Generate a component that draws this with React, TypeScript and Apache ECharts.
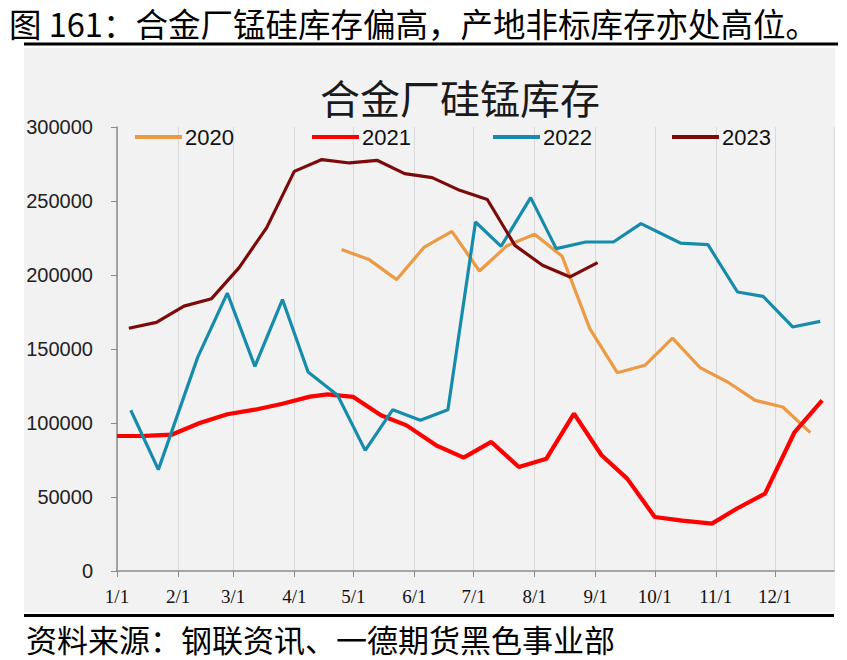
import React, { useEffect, useRef } from "react";
import * as echarts from "echarts";

const HEADING = "图 161：合金厂锰硅库存偏高，产地非标库存亦处高位。";
const CHART_TITLE = "合金厂硅锰库存";
const SOURCE = "资料来源：钢联资讯、一德期货黑色事业部";

const SERIES_NAMES = ["2020", "2021", "2022", "2023"];
const SERIES_COLORS = ["#EC9A43", "#FF0000", "#168BAB", "#7D0A0A"];
const SERIES_WIDTHS = [3.2, 4.2, 3.2, 3.2];

// month-day of each observation (plotted on a common Jan–Dec axis)
const dates2020 = ["04-25", "05-09", "05-23", "06-06", "06-20", "07-04", "07-18", "08-01", "08-15", "08-29", "09-12", "09-26", "10-10", "10-24", "11-07", "11-21", "12-05", "12-19"];
const values2020 = [217200, 210400, 196900, 218900, 229500, 202700, 219800, 227500, 212600, 163800, 134000, 139000, 157400, 137400, 127700, 115300, 110800, 93500];

const dates2021 = ["01-01", "01-15", "01-29", "02-12", "02-26", "03-12", "03-26", "04-09", "04-18", "05-01", "05-15", "05-28", "06-12", "06-26", "07-10", "07-24", "08-07", "08-21", "09-04", "09-17", "10-01", "10-15", "10-30", "11-12", "11-26", "12-11", "12-25"];
const values2021 = [91200, 91300, 92200, 100000, 105900, 109000, 113000, 117800, 119300, 117600, 105200, 98400, 84900, 76600, 87200, 70300, 75900, 106300, 78200, 62400, 36500, 34000, 32000, 42400, 52300, 93900, 115300];

const dates2022 = ["01-08", "01-22", "02-11", "02-26", "03-12", "03-26", "04-08", "04-23", "05-07", "05-21", "06-04", "06-18", "07-02", "07-15", "07-30", "08-12", "08-27", "09-10", "09-24", "10-14", "10-28", "11-12", "11-25", "12-10", "12-24"];
const values2022 = [108600, 68500, 144500, 187800, 138300, 183400, 134500, 118700, 81500, 109000, 101800, 109000, 235800, 219400, 252300, 217800, 222300, 222300, 234700, 221600, 220500, 188500, 185600, 164900, 168700];

const dates2023 = ["01-07", "01-21", "02-04", "02-18", "03-04", "03-18", "04-01", "04-15", "04-29", "05-13", "05-27", "06-10", "06-24", "07-08", "07-22", "08-05", "08-19", "09-02"];
const values2023 = [164000, 168000, 179000, 184000, 205000, 232000, 270000, 278000, 275700, 277500, 268500, 265800, 257200, 251000, 220000, 206600, 198700, 208400];

const Y_MIN = 0;
const Y_MAX = 300000;
const Y_STEP = 50000;

const BASE_YEAR = 2001;

const SANS = "'Liberation Sans', Arial, sans-serif";
const SERIF = "'Liberation Serif', 'Times New Roman', serif";
const CJK = "'Noto Sans CJK SC', sans-serif";

function toTime(md: string): number {
  const [m, d] = md.split("-").map(Number);
  return new Date(BASE_YEAR, m - 1, d).getTime();
}

function pairs(dates: string[], values: number[]) {
  return dates.map((d, i) => [toTime(d), values[i]]);
}

const ALL_DATES = [dates2020, dates2021, dates2022, dates2023];
const ALL_VALUES = [values2020, values2021, values2022, values2023];

const LEGEND_LEFTS = [130, 307, 488, 667];

export default function App() {
  const ref = useRef<HTMLDivElement>(null);

  useEffect(() => {
    if (!ref.current) return;
    const chart = echarts.init(ref.current, undefined, { renderer: "svg" });

    const series = SERIES_NAMES.map((name, i) => ({
      name,
      type: "line",
      data: pairs(ALL_DATES[i], ALL_VALUES[i]),
      showSymbol: false,
      symbol: "none",
      lineStyle: { color: SERIES_COLORS[i], width: SERIES_WIDTHS[i] },
      itemStyle: { color: SERIES_COLORS[i] },
      z: 3,
    }));

    const legends = SERIES_NAMES.map((name, i) => ({
      data: [name],
      left: LEGEND_LEFTS[i],
      top: 121,
      icon: "rect",
      itemWidth: 47,
      itemHeight: 4,
      itemGap: 0,
      textStyle: { fontFamily: SANS, fontSize: 22, lineHeight: 22, color: "#111", padding: [0, 0, 0, -2] },
      selectedMode: false,
    }));

    chart.setOption({
      animation: false,
      grid: { left: 117, right: 13, top: 127, bottom: 89, containLabel: false },
      legend: legends,
      xAxis: {
        type: "time",
        min: new Date(BASE_YEAR, 0, 1).getTime(),
        max: new Date(BASE_YEAR, 11, 31).getTime(),
        splitNumber: 12,
        axisLine: { show: true, lineStyle: { color: "#8c8c8c", width: 1.5 } },
        axisTick: { show: true, length: 6, lineStyle: { color: "#8c8c8c" } },
        splitLine: { show: true, lineStyle: { color: "#d9d9d9", width: 1 } },
        axisLabel: {
          fontFamily: SERIF,
          fontSize: 19,
          color: "#111",
          margin: 16,
          hideOverlap: false,
          formatter: (v: number) => {
            const dt = new Date(v);
            return dt.getDate() === 1 ? `${dt.getMonth() + 1}/1` : "";
          },
        },
      },
      yAxis: {
        type: "value",
        min: Y_MIN,
        max: Y_MAX,
        interval: Y_STEP,
        axisLine: { show: true, lineStyle: { color: "#8c8c8c", width: 1.5 } },
        axisTick: { show: true, length: 6, lineStyle: { color: "#8c8c8c" } },
        splitLine: { show: false },
        axisLabel: {
          fontFamily: SANS,
          fontSize: 20,
          color: "#222",
          margin: 24,
          formatter: (v: number) => String(v),
        },
      },
      graphic: [
        {
          type: "rect",
          z: -100,
          shape: { x: 24, y: 48, width: 811, height: 564 },
          style: { fill: "#f2f2f2" },
          silent: true,
        },
        {
          type: "rect",
          shape: { x: 24, y: 42.5, width: 814, height: 3 },
          style: { fill: "#000" },
          silent: true,
        },
        {
          type: "rect",
          shape: { x: 24, y: 614, width: 810, height: 3 },
          style: { fill: "#000" },
          silent: true,
        },
        {
          type: "text",
          x: 9,
          y: 22,
          style: { text: HEADING, fontFamily: CJK, fontSize: 32.5, lineHeight: 34, fill: "#000", textVerticalAlign: "middle" },
          silent: true,
        },
        {
          type: "text",
          x: 460,
          y: 97,
          style: { text: CHART_TITLE, fontFamily: CJK, fontSize: 40, lineHeight: 40, fill: "#1a1a1a", textAlign: "center", textVerticalAlign: "middle" },
          silent: true,
        },
        {
          type: "text",
          x: 26,
          y: 638,
          style: { text: SOURCE, fontFamily: CJK, fontSize: 31, lineHeight: 32, fill: "#000", textVerticalAlign: "middle" },
          silent: true,
        },
      ],
      series,
    });

    return () => chart.dispose();
  }, []);

  return (
    <div
      ref={ref}
      style={{ position: "fixed", left: 0, top: 0, width: 847, height: 660, background: "#fff" }}
    />
  );
}
